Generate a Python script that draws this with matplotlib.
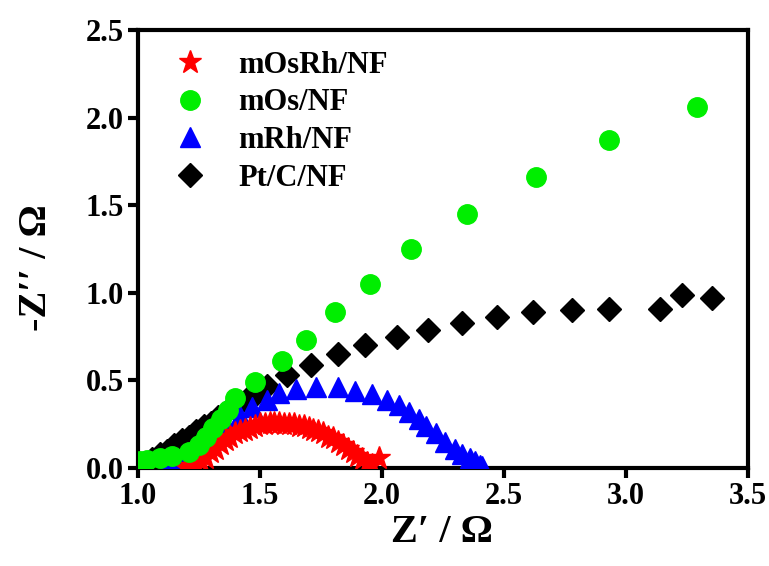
import matplotlib
matplotlib.use("Agg")
import matplotlib.pyplot as plt

plt.rcParams['font.family'] = ['Liberation Serif', 'DejaVu Serif']
plt.rcParams['font.weight'] = 'bold'

# mOsRh/NF
osrh_x = [1.20, 1.22, 1.24, 1.26, 1.28, 1.30, 1.32, 1.34, 1.36, 1.38, 1.40, 1.42, 1.44, 1.46,
          1.48, 1.50, 1.52, 1.54, 1.56, 1.58, 1.60, 1.62, 1.64, 1.66, 1.68, 1.70, 1.72, 1.74,
          1.76, 1.78, 1.80, 1.82, 1.84, 1.86, 1.88, 1.90, 1.92, 1.94, 1.96, 1.99]
osrh_y = [0.00, 0.01, 0.02, 0.04, 0.06, 0.09, 0.11, 0.14, 0.16, 0.18, 0.20, 0.21, 0.22, 0.23,
          0.24, 0.25, 0.25, 0.26, 0.26, 0.26, 0.25, 0.25, 0.25, 0.24, 0.24, 0.23, 0.22, 0.21,
          0.20, 0.18, 0.17, 0.15, 0.13, 0.11, 0.09, 0.07, 0.05, 0.03, 0.02, 0.06]

# mOs/NF
os_x = [1.01, 1.04, 1.09, 1.14, 1.21, 1.25, 1.28, 1.31, 1.34, 1.37, 1.40, 1.48, 1.59, 1.69,
        1.81, 1.95, 2.12, 2.35, 2.63, 2.93, 3.29]
os_y = [0.04, 0.045, 0.055, 0.07, 0.09, 0.13, 0.18, 0.23, 0.28, 0.33, 0.40, 0.49, 0.61, 0.73,
        0.89, 1.05, 1.25, 1.45, 1.66, 1.87, 2.06]

# mRh/NF
rh_x = [1.12, 1.16, 1.20, 1.24, 1.28, 1.32, 1.36, 1.42, 1.47, 1.53, 1.58, 1.65, 1.73, 1.82,
        1.89, 1.96, 2.02, 2.07, 2.11, 2.15, 2.18, 2.22, 2.26, 2.30, 2.33, 2.36, 2.38, 2.40, 2.41]
rh_y = [0.02, 0.03, 0.06, 0.10, 0.15, 0.20, 0.25, 0.30, 0.35, 0.39, 0.43, 0.45, 0.46, 0.46,
        0.44, 0.42, 0.39, 0.36, 0.32, 0.28, 0.24, 0.20, 0.15, 0.11, 0.08, 0.06, 0.04, 0.02, 0.01]

# Pt/C/NF
pt_x = [1.03, 1.06, 1.09, 1.12, 1.15, 1.18, 1.21, 1.24, 1.27, 1.30, 1.33, 1.36, 1.39, 1.42,
        1.45, 1.49, 1.53, 1.61, 1.71, 1.82, 1.93, 2.06, 2.19, 2.33, 2.47, 2.62, 2.78, 2.93,
        3.14, 3.23, 3.35]
pt_y = [0.02, 0.05, 0.08, 0.10, 0.13, 0.16, 0.18, 0.21, 0.24, 0.26, 0.29, 0.32, 0.35, 0.37,
        0.40, 0.43, 0.47, 0.53, 0.59, 0.65, 0.70, 0.75, 0.79, 0.83, 0.86, 0.89, 0.90, 0.91,
        0.91, 0.99, 0.97]

fig = plt.figure(figsize=(7.69, 5.66), dpi=100)
ax = fig.add_axes([0.179, 0.173, 0.794, 0.774])

ax.plot(pt_x, pt_y, 'D', color='black', ms=12, ls='none', label='Pt/C/NF', zorder=2)
ax.plot(rh_x, rh_y, '^', color='#0000ff', ms=15, ls='none', label='mRh/NF', zorder=3)
ax.plot(osrh_x, osrh_y, '*', color='#ff0000', ms=17, ls='none', label='mOsRh/NF', zorder=4)
ax.plot(os_x, os_y, 'o', color='#00ee00', ms=14, ls='none', label='mOs/NF', zorder=5)

ax.set_xlim(1.0, 3.5)
ax.set_ylim(0.0, 2.5)
ax.set_xticks([1.0, 1.5, 2.0, 2.5, 3.0, 3.5])
ax.set_yticks([0.0, 0.5, 1.0, 1.5, 2.0, 2.5])
ax.xaxis.set_major_formatter(matplotlib.ticker.FormatStrFormatter('%.1f'))
ax.yaxis.set_major_formatter(matplotlib.ticker.FormatStrFormatter('%.1f'))

for s in ax.spines.values():
    s.set_linewidth(3)
ax.tick_params(direction='out', length=7, width=3, labelsize=22, pad=3)
for lab in ax.get_xticklabels() + ax.get_yticklabels():
    lab.set_fontweight('bold')

ax.set_xlabel('Z\u2032 / \u03a9', fontsize=29, fontweight='bold')
ax.set_ylabel('-Z\u2032\u2032 / \u03a9', fontsize=29, fontweight='bold')
ax.xaxis.set_label_coords(0.498, -0.105)
ax.yaxis.set_label_coords(-0.135, 0.457)

h, l = ax.get_legend_handles_labels()
order = [2, 3, 1, 0]
ax.legend([h[i] for i in order], [l[i] for i in order], loc='upper left', frameon=False,
          bbox_to_anchor=(-0.01, 1.015), handletextpad=0.6, labelspacing=0.28,
          prop={'weight': 'bold', 'size': 22})

fig.savefig('out.png', dpi=100)
